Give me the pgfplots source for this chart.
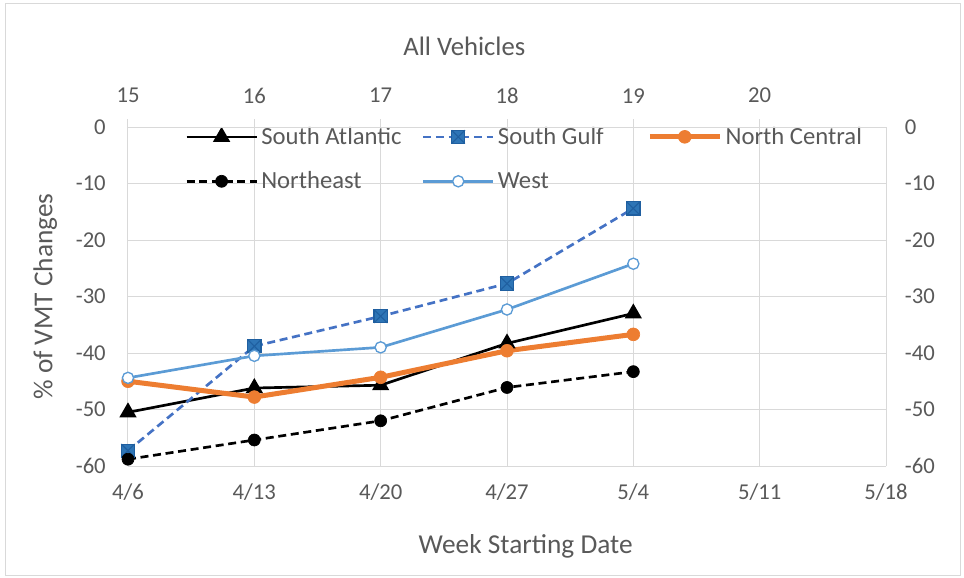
\documentclass[border=0pt]{standalone}
\usepackage{pgfplots}
\pgfplotsset{compat=1.18}
\usepackage{fontspec}
\setmainfont{Carlito}

\definecolor{txt}{HTML}{595959}
\definecolor{gridc}{HTML}{D9D9D9}
\definecolor{sgline}{HTML}{4472C4}
\definecolor{sgfill}{HTML}{2E75B6}
\definecolor{sgx}{HTML}{1F5FA0}
\definecolor{ncorange}{HTML}{ED7D31}
\definecolor{westblue}{HTML}{5B9BD5}

% square with a cross, as Excel draws it
\pgfdeclareplotmark{sqx}{%
  \pgfpathrectangle{\pgfqpoint{-\pgfplotmarksize}{-\pgfplotmarksize}}{\pgfqpoint{2\pgfplotmarksize}{2\pgfplotmarksize}}%
  \pgfusepathqfillstroke
  \pgfpathmoveto{\pgfqpoint{-\pgfplotmarksize}{-\pgfplotmarksize}}%
  \pgfpathlineto{\pgfqpoint{\pgfplotmarksize}{\pgfplotmarksize}}%
  \pgfpathmoveto{\pgfqpoint{-\pgfplotmarksize}{\pgfplotmarksize}}%
  \pgfpathlineto{\pgfqpoint{\pgfplotmarksize}{-\pgfplotmarksize}}%
  \pgfusepathqstroke}

\newcommand\legtxt[2]{\makebox[#1][l]{#2}}

\begin{document}
\begin{tikzpicture}[font=\fontsize{17}{20}\selectfont, text=txt]

\begin{axis}[
    scale only axis,
    width=568.5pt, height=254.25pt,
    xmin=0, xmax=6,
    ymin=-60, ymax=0,
    xtick={0,1,2,3,4,5,6},
    xticklabels={4/6,4/13,4/20,4/27,5/4,5/11,5/18},
    ytick={-60,-50,-40,-30,-20,-10,0},
    yticklabels={-60,-50,-40,-30,-20,-10,0},
    axis x line*=bottom, axis y line*=left,
    axis line style={draw=gridc, line width=0.75pt, -},
    tick style={draw=none},
    grid=major,
    grid style={draw=gridc, line width=0.75pt},
    xticklabel style={anchor=center, inner sep=0pt, yshift=-19.5pt},
    yticklabel style={anchor=east, inner sep=0pt, xshift=-16.5pt},
    xlabel={Week Starting Date},
    ylabel={\% of VMT Changes},
    label style={font=\fontsize{20.5}{24}\selectfont},
    xlabel style={at={(axis description cs:0.5,0)}, anchor=center, xshift=14pt, yshift=-60pt},
    ylabel style={at={(axis description cs:0,0.5)}, anchor=center, yshift=62pt},
    title={All Vehicles},
    title style={font=\fontsize{20}{24}\selectfont, at={(axis description cs:0.5,1)}, anchor=center, xshift=-32pt, yshift=54.75pt},
    legend columns=3,
    legend style={at={(axis description cs:0.0752,1)}, anchor=north west, yshift=0pt,
        draw=none, fill=none, inner sep=0pt, row sep=19pt,
        font=\fontsize{18.5}{22}\selectfont,
        nodes={inner sep=0pt},
        /tikz/every odd column/.append style={column sep=2.5pt},
        /tikz/every even column/.append style={column sep=0pt}},
    legend cell align=left,
    legend image code/.code={\draw[mark repeat=2,mark phase=2] plot coordinates {(0pt,0pt)(26.25pt,0pt)(52.5pt,0pt)};},
]

\addplot[black, line width=2pt, mark=triangle*, mark size=5.5pt, mark options={solid, fill=black}]
    coordinates {(0,-50.5)(1,-46.2)(2,-45.7)(3,-38.3)(4,-33.0)};
\addlegendentry{\legtxt{120.5pt}{South Atlantic}}

\addplot[sgline, line width=2pt, dash pattern=on 6pt off 3.5pt, mark=sqx, mark size=5pt,
    mark options={solid, fill=sgfill, draw=sgx, line width=0.8pt}]
    coordinates {(0,-57.3)(1,-38.8)(2,-33.5)(3,-27.7)(4,-14.4)};
\addlegendentry{\legtxt{112pt}{South Gulf}}

\addplot[ncorange, line width=3.75pt, mark=*, mark size=4.8pt, mark options={solid, fill=ncorange, line width=0.5pt}]
    coordinates {(0,-45.0)(1,-47.8)(2,-44.3)(3,-39.6)(4,-36.7)};
\addlegendentry{North Central}

\addplot[black, line width=2pt, dash pattern=on 6pt off 3.5pt, mark=*, mark size=4.5pt, mark options={solid, fill=black, line width=0.5pt}]
    coordinates {(0,-58.8)(1,-55.4)(2,-52.0)(3,-46.1)(4,-43.3)};
\addlegendentry{\legtxt{120.5pt}{Northeast}}

\addplot[westblue, line width=2pt, mark=*, mark size=4.2pt, mark options={solid, fill=white, line width=1pt}]
    coordinates {(0,-44.4)(1,-40.5)(2,-39.0)(3,-32.3)(4,-24.2)};
\addlegendentry{\legtxt{112pt}{West}}

\end{axis}

\begin{axis}[
    scale only axis,
    width=568.5pt, height=254.25pt,
    xmin=15, xmax=21,
    ymin=-60, ymax=0,
    xtick={15,16,17,18,19,20},
    xticklabels={15,16,17,18,19,20},
    ytick={-60,-50,-40,-30,-20,-10,0},
    yticklabels={-60,-50,-40,-30,-20,-10,0},
    axis x line*=top, axis y line*=right,
    axis line style={draw=gridc, line width=0.75pt, -},
    xtick style={draw=gridc, line width=0.75pt},
    ytick style={draw=none},
    xtick align=outside,
    major tick length=6pt,
    xticklabel style={anchor=center, inner sep=0pt, yshift=17.5pt},
    yticklabel style={anchor=west, inner sep=0pt, xshift=14pt},
]
\end{axis}

\draw[gridc, line width=0.75pt] (-91.5pt,-81.75pt) rectangle (624pt,346.5pt);
\pgfresetboundingbox
\path (-96pt,-84pt) rectangle (627pt,349.5pt);
\end{tikzpicture}
\end{document}
